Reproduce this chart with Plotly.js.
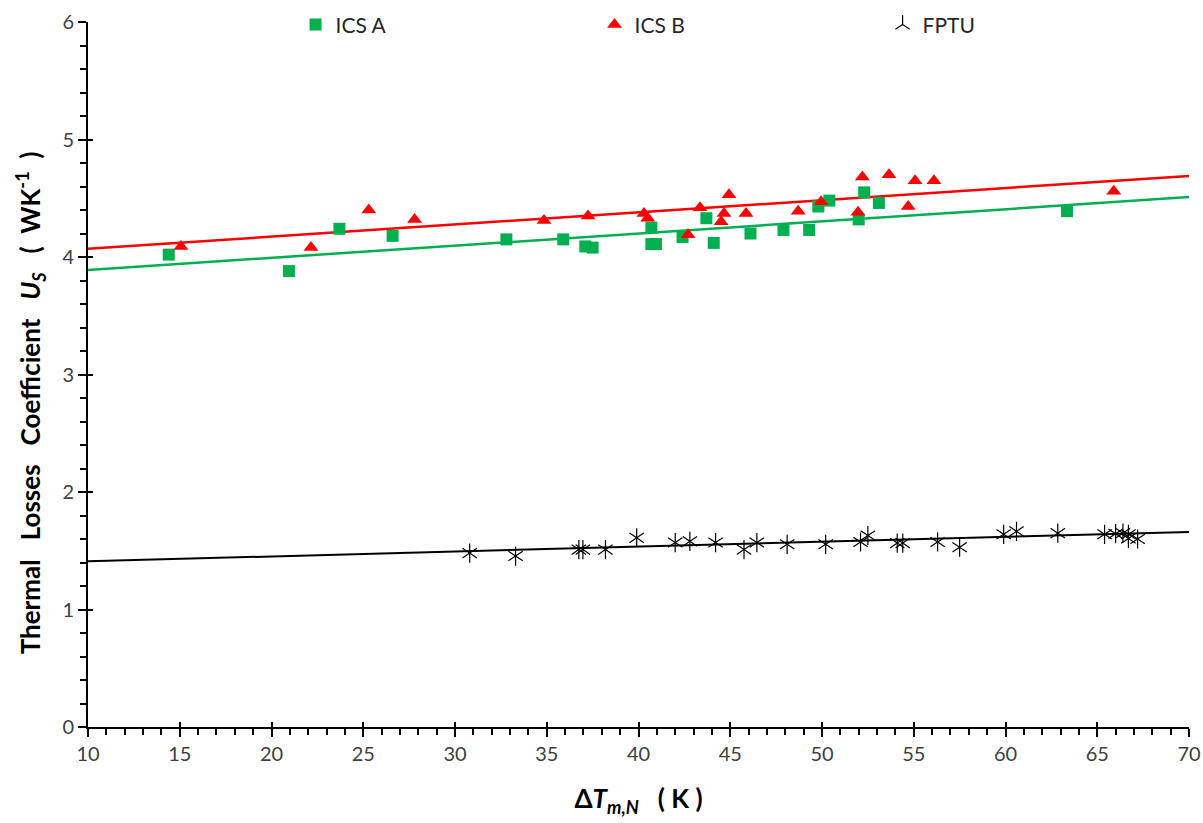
<!DOCTYPE html>
<html><head><meta charset="utf-8">
<script src="https://cdn.plot.ly/plotly-3.0.1.min.js"></script>
<style>html,body{margin:0;padding:0;background:#fff}</style>
</head><body><div id="chart" style="width:1203px;height:823px"></div>
<script>
// ICS A (green squares)
const icsA_x = [14.4, 20.95, 23.7, 26.6, 32.8, 35.9, 37.1, 37.5, 40.7, 40.7, 40.95, 42.4, 43.7, 44.1, 46.1, 47.9, 49.3, 49.8, 50.4, 52.0, 52.3, 53.1, 63.35];
const icsA_y = [4.02, 3.88, 4.24, 4.18, 4.15, 4.15, 4.09, 4.08, 4.25, 4.11, 4.11, 4.17, 4.33, 4.12, 4.20, 4.23, 4.23, 4.43, 4.48, 4.32, 4.55, 4.46, 4.39];
// ICS B (red triangles)
const icsB_x = [15.07, 22.15, 25.3, 27.8, 34.85, 37.25, 40.3, 40.5, 42.7, 43.35, 44.5, 44.66, 44.93, 45.86, 48.7, 49.95, 51.96, 52.2, 53.65, 54.7, 55.07, 56.1, 65.9];
const icsB_y = [4.09, 4.08, 4.40, 4.32, 4.31, 4.35, 4.37, 4.33, 4.19, 4.42, 4.30, 4.37, 4.53, 4.37, 4.39, 4.47, 4.38, 4.68, 4.70, 4.43, 4.65, 4.65, 4.56];
// FPTU (black stars)
const fptu_x = [30.8, 33.3, 36.75, 36.97, 38.2, 39.9, 42.0, 42.8, 44.2, 45.75, 46.45, 48.1, 50.2, 52.1, 52.5, 54.1, 54.4, 56.3, 57.5, 59.9, 60.6, 62.85, 65.4, 66.0, 66.4, 66.7, 66.7, 67.2];
const fptu_y = [1.48, 1.455, 1.51, 1.51, 1.51, 1.61, 1.57, 1.58, 1.57, 1.51, 1.57, 1.555, 1.555, 1.575, 1.63, 1.565, 1.565, 1.575, 1.53, 1.64, 1.665, 1.65, 1.64, 1.645, 1.65, 1.64, 1.605, 1.60];
// Linear trend lines (read at x = 10 and x = 70)
const trend_x = [10, 70];
const trendA_y = [3.89, 4.51];
const trendB_y = [4.07, 4.69];
const trendF_y = [1.41, 1.66];

const GREEN = '#00B050', RED = '#FF0000', BLACK = '#000000';
const NB = '\u00A0';
const FONT = 'Lato, "Open Sans", sans-serif';
const sp = (n) => NB.repeat(n);

const starMarker = (sym) => ({symbol: sym, size: 12, color: BLACK, line: {color: '#1a1a1a', width: 1.2}});

const traces = [
  {x: trend_x, y: trendA_y, mode: 'lines', line: {color: GREEN, width: 2.5}, showlegend: false, hoverinfo: 'skip'},
  {x: trend_x, y: trendB_y, mode: 'lines', line: {color: RED, width: 2.5}, showlegend: false, hoverinfo: 'skip'},
  {x: trend_x, y: trendF_y, mode: 'lines', line: {color: BLACK, width: 2}, showlegend: false, hoverinfo: 'skip'},
  {x: icsA_x, y: icsA_y, mode: 'markers', name: 'ICS A', legend: 'legend', marker: {symbol: 'square', size: 12, color: GREEN}},
  {x: icsB_x, y: icsB_y, mode: 'markers', name: 'ICS B', legend: 'legend2', marker: {symbol: 'triangle-up', size: 13, color: RED}},
  {x: fptu_x, y: fptu_y, mode: 'markers', name: 'FPTU', legend: 'legend3', legendgroup: 'f', marker: starMarker('y-up-open')},
  {x: fptu_x, y: fptu_y, mode: 'markers', name: 'FPTU', legendgroup: 'f', showlegend: false, marker: starMarker('y-down-open')},
  // carrier for the inner half of the crossing major ticks
  {x: [], y: [], xaxis: 'x2', yaxis: 'y2', mode: 'markers', showlegend: false, hoverinfo: 'skip'}
];

const tickFont = {family: FONT, size: 20, color: '#404040'};
const titleFont = {family: FONT, size: 26, color: '#000'};
const legFont = {family: FONT, size: 21, color: '#262626'};
const legBase = {orientation: 'h', y: 1.025, xanchor: 'left', yanchor: 'top', font: legFont, bgcolor: 'rgba(0,0,0,0)'};

const layout = {
  width: 1203, height: 823,
  margin: {l: 88, r: 14, t: 22, b: 96, autoexpand: false},
  paper_bgcolor: '#fff', plot_bgcolor: '#fff',
  showlegend: true,
  legend: Object.assign({x: 0.1885}, legBase),
  legend2: Object.assign({x: 0.4601}, legBase),
  legend3: Object.assign({x: 0.7217}, legBase),
  xaxis: {
    range: [10, 70], tick0: 0, dtick: 5, showgrid: false, zeroline: false,
    showline: true, linecolor: '#000', linewidth: 2,
    ticks: 'outside', ticklen: 8, tickwidth: 2, tickcolor: '#000',
    minor: {dtick: 1, ticks: 'outside', ticklen: 6, tickwidth: 2, tickcolor: '#000', showgrid: false},
    tickfont: tickFont,
    title: {text: '<b>Δ<i>T</i><sub><i>m,N</i></sub>' + sp(3) + '(' + sp(1) + 'K' + sp(1) + ')</b>', font: titleFont, standoff: 26}
  },
  yaxis: {
    range: [0, 6], tick0: 0, dtick: 1, showgrid: false, zeroline: false,
    showline: true, linecolor: '#000', linewidth: 2,
    ticks: 'outside', ticklen: 8, tickwidth: 2, tickcolor: '#000',
    minor: {dtick: 0.2, ticks: 'outside', ticklen: 6, tickwidth: 2, tickcolor: '#000', showgrid: false},
    tickfont: tickFont,
    title: {text: '<b>Thermal' + sp(3) + 'Losses' + sp(3) + 'Coefficient' + sp(3) + '<i>U</i><sub><i>S</i></sub>' + sp(3) + '(' + sp(2) + 'WK<sup>-1</sup>' + sp(2) + ')' + sp(9) + '</b>', font: titleFont, standoff: 14}
  },
  xaxis2: {overlaying: 'x', anchor: 'y2', range: [10, 70], tick0: 0, dtick: 5, showgrid: false, zeroline: false,
    showline: false, ticks: 'inside', ticklen: 5, tickwidth: 2, tickcolor: '#000', showticklabels: false},
  yaxis2: {overlaying: 'y', anchor: 'x2', range: [0, 6], tick0: 0, dtick: 1, showgrid: false, zeroline: false,
    showline: false, ticks: 'inside', ticklen: 5, tickwidth: 2, tickcolor: '#000', showticklabels: false}
};

Plotly.newPlot('chart', traces, layout, {displayModeBar: false, responsive: false});
</script>
</body></html>
